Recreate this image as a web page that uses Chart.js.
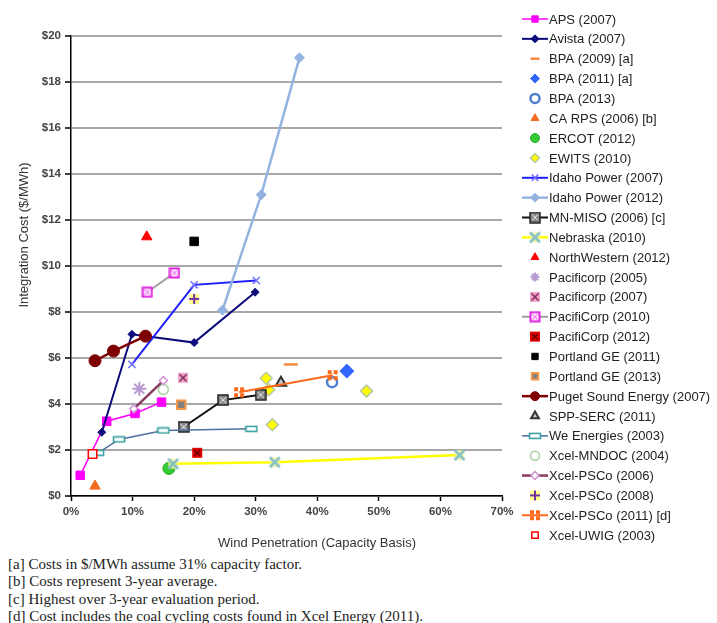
<!DOCTYPE html>
<html>
<head>
<meta charset="utf-8">
<title>Wind integration cost</title>
<script src="https://cdn.jsdelivr.net/npm/chart.js@4.4.1/dist/chart.umd.min.js"></script>
<style>
  html, body { margin: 0; padding: 0; background: #fff; }
  #wrap { position: relative; width: 717px; height: 623px; }
  #chart { display: block; }
  #notes { position: absolute; left: 8px; top: 556px; font: 15px "Liberation Serif", "DejaVu Serif", serif; line-height: 17.4px; color: #222; white-space: nowrap; }
</style>
</head>
<body>
<div id="wrap">
  <canvas id="chart" width="717" height="555"></canvas>
  <div id="notes">
    <div>[a] Costs in $/MWh assume 31% capacity factor.</div>
    <div>[b] Costs represent 3-year average.</div>
    <div>[c] Highest over 3-year evaluation period.</div>
    <div>[d] Cost includes the coal cycling costs found in Xcel Energy (2011).</div>
  </div>
</div>
<script>
// study names (legend order)
const studies = [
    "APS (2007)", "Avista (2007)", "BPA (2009) [a]", "BPA (2011) [a]", "BPA (2013)",
    "CA RPS (2006) [b]", "ERCOT (2012)", "EWITS (2010)", "Idaho Power (2007)", "Idaho Power (2012)",
    "MN-MISO (2006) [c]", "Nebraska (2010)", "NorthWestern (2012)", "Pacificorp (2005)", "Pacificorp (2007)",
    "PacifiCorp (2010)", "PacifiCorp (2012)", "Portland GE (2011)", "Portland GE (2013)", "Puget Sound Energy (2007)",
    "SPP-SERC (2011)", "We Energies (2003)", "Xcel-MNDOC (2004)", "Xcel-PSCo (2006)", "Xcel-PSCo (2008)",
    "Xcel-PSCo (2011) [d]", "Xcel-UWIG (2003)"
];

// [wind penetration %, integration cost $/MWh]
const aps2007 = [[1.5, 0.9], [5.8, 3.25], [10.4, 3.59], [14.7, 4.08]];
const avista2007 = [[5.0, 2.77], [9.9, 7.03], [20.0, 6.67], [29.9, 8.86]];
const bpa2009 = [[35.7, 5.72]];
const bpa2011 = [[44.8, 5.43]];
const bpa2013 = [[42.4, 4.95]];
const caRps2006 = [[3.9, 0.43]];
const ercot2012 = [[15.9, 1.2]];
const ewits2010 = [[31.7, 5.12], [32.1, 4.62], [32.7, 3.1], [48.0, 4.56]];
const idaho2007 = [[9.9, 5.72], [20.0, 9.18], [30.1, 9.37]];
const idaho2012 = [[24.6, 8.08], [30.9, 13.1], [37.1, 19.05]];
const mnMiso2006 = [[18.3, 3.0], [24.7, 4.17], [30.8, 4.4]];
const nebraska2010 = [[16.6, 1.4], [33.1, 1.47], [63.1, 1.78]];
const northwestern2012 = [[12.3, 11.27]];
const pacificorp2005 = [[11.1, 4.66]];
const pacificorp2007 = [[18.2, 5.14]];
const pacificorp2010 = [[12.4, 8.86], [16.8, 9.7]];
const pacificorp2012 = [[20.5, 1.88]];
const portland2011 = [[20.0, 11.07]];
const portland2013 = [[17.9, 3.97]];
const puget2007 = [[3.9, 5.88], [6.9, 6.3], [12.1, 6.95]];
const sppSerc2011 = [[34.1, 4.92]];
const weEnergies2003 = [[4.4, 1.88], [7.8, 2.46], [15.0, 2.85], [29.3, 2.92]];
const xcelMndoc2004 = [[15.0, 4.63]];
const xcelPsco2006 = [[10.2, 3.79], [15.0, 5.02]];
const xcelPsco2008 = [[20.0, 8.57]];
const xcelPsco2011 = [[27.3, 4.51], [42.5, 5.25]];
const xcelUwig2003 = [[3.5, 1.83]];

const xTicks = [0, 10, 20, 30, 40, 50, 60, 70];
const yTicks = [0, 2, 4, 6, 8, 10, 12, 14, 16, 18, 20];

// small hand-drawn marker images
function marker(w, h, draw) {
    const c = document.createElement("canvas");
    c.width = w;
    c.height = h;
    draw(c.getContext("2d"), w, h);
    return c;
}
function xLines(g, w, h, pad, color, lw) {
    g.strokeStyle = color;
    g.lineWidth = lw;
    g.beginPath();
    g.moveTo(pad, pad); g.lineTo(w - pad, h - pad);
    g.moveTo(w - pad, pad); g.lineTo(pad, h - pad);
    g.stroke();
}
const mkMiso = marker(12, 12, (g, w, h) => {
    g.fillStyle = "#8a8a8a"; g.fillRect(1, 1, 10, 10);
    g.strokeStyle = "#222"; g.lineWidth = 1.5; g.strokeRect(1, 1, 10, 10);
    xLines(g, w, h, 3, "#e8e8e8", 1);
});
const mkNebraska = marker(14, 14, (g, w, h) => {
    g.fillStyle = "rgba(240,240,160,0.8)"; g.fillRect(2, 2, 10, 10);
    xLines(g, w, h, 2, "#86c0c4", 2.5);
});
const mkPc2010 = marker(12, 12, (g, w, h) => {
    g.fillStyle = "#fff"; g.fillRect(1, 1, 10, 10);
    g.strokeStyle = "#e020e0"; g.lineWidth = 2; g.strokeRect(1.5, 1.5, 9, 9);
    xLines(g, w, h, 3.5, "#f080f0", 1.2);
});
const mkPc2007 = marker(12, 12, (g, w, h) => {
    g.fillStyle = "#f4a4c8"; g.fillRect(1, 1, 10, 10);
    xLines(g, w, h, 2.5, "#803060", 1.6);
});
const mkPc2012 = marker(12, 12, (g, w, h) => {
    g.fillStyle = "#e00000"; g.fillRect(1, 1, 10, 10);
    xLines(g, w, h, 3, "#600000", 1.4);
});
const mkWe = marker(14, 8, (g) => {
    g.fillStyle = "#fff"; g.fillRect(1, 1, 12, 6);
    g.strokeStyle = "#2e9a9a"; g.lineWidth = 1.5; g.strokeRect(1.5, 1.5, 11, 5);
});
const mkPsco2008 = marker(12, 12, (g) => {
    g.fillStyle = "#ffff90"; g.fillRect(1, 1, 10, 10);
    g.strokeStyle = "#7030a0"; g.lineWidth = 2;
    g.beginPath();
    g.moveTo(6, 1); g.lineTo(6, 11);
    g.moveTo(1, 6); g.lineTo(11, 6);
    g.stroke();
});
const mkPsco2011 = marker(12, 12, (g) => {
    g.fillStyle = "#ff6a1a";
    g.fillRect(1, 1, 4, 4); g.fillRect(7, 1, 4, 4);
    g.fillRect(1, 7, 4, 4); g.fillRect(7, 7, 4, 4);
});

function pts(arr) {
    return arr.map(p => ({ x: p[0], y: p[1] }));
}

const styles = [
    { d: aps2007, line: "#ff00ff", lw: 1.5, ps: "rect", r: 6, bg: "#ff00ff", bc: "#ff00ff" },
    { d: avista2007, line: "#0b0b7a", lw: 2, ps: "rectRot", r: 4, bg: "#0b0b7a", bc: "#0b0b7a" },
    { d: bpa2009, ps: "line", r: 7, bg: "#f58a3c", bc: "#f58a3c", bw: 2.5 },
    { d: bpa2011, ps: "rectRot", r: 7, bg: "#3366ff", bc: "#3366ff" },
    { d: bpa2013, ps: "circle", r: 5, bg: "#ffffff", bc: "#4f81d0", bw: 2.5 },
    { d: caRps2006, ps: "triangle", r: 6, bg: "#f26b1d", bc: "#f26b1d" },
    { d: ercot2012, ps: "circle", r: 6, bg: "#33cc33", bc: "#22aa22" },
    { d: ewits2010, ps: "rectRot", r: 6, bg: "#ffff00", bc: "#b8c8a0", bw: 1.5 },
    { d: idaho2007, line: "#1f1fff", lw: 2, ps: "crossRot", r: 5, bg: "#7070ff", bc: "#7070ff", bw: 1.5 },
    { d: idaho2012, line: "#95b3e0", lw: 2.5, ps: "rectRot", r: 5, bg: "#95b3e0", bc: "#95b3e0" },
    { d: mnMiso2006, line: "#111111", lw: 2, ps: mkMiso },
    { d: nebraska2010, line: "#ffff00", lw: 2.5, ps: mkNebraska },
    { d: northwestern2012, ps: "triangle", r: 6, bg: "#ff0000", bc: "#ff0000" },
    { d: pacificorp2005, ps: "star", r: 7, bg: "#b89ad0", bc: "#b89ad0", bw: 2 },
    { d: pacificorp2007, ps: mkPc2007 },
    { d: pacificorp2010, line: "#a0a0a0", lw: 2, ps: mkPc2010 },
    { d: pacificorp2012, ps: mkPc2012 },
    { d: portland2011, ps: "rect", r: 6, bg: "#000000", bc: "#000000" },
    { d: portland2013, ps: "rect", r: 6, bg: "#808080", bc: "#f79646", bw: 2 },
    { d: puget2007, line: "#7f0000", lw: 2.5, ps: "circle", r: 6, bg: "#7f0000", bc: "#7f0000" },
    { d: sppSerc2011, ps: "triangle", r: 6, bg: "#c8c8c8", bc: "#333333", bw: 2 },
    { d: weEnergies2003, line: "#4f6fa0", lw: 1.5, ps: mkWe },
    { d: xcelMndoc2004, ps: "circle", r: 5, bg: "#ffffff", bc: "#a8d0a0", bw: 1.5 },
    { d: xcelPsco2006, line: "#8b3a62", lw: 2.5, ps: "rectRot", r: 4, bg: "#ffffff", bc: "#d090d0", bw: 1.5 },
    { d: xcelPsco2008, ps: mkPsco2008 },
    { d: xcelPsco2011, line: "#ff6a1a", lw: 2, ps: mkPsco2011 },
    { d: xcelUwig2003, ps: "rect", r: 6, bg: "#ffffff", bc: "#ff0000", bw: 1.5 }
];

const datasets = styles.map((s, i) => ({
    label: studies[i],
    data: pts(s.d),
    showLine: !!s.line,
    borderColor: s.line || s.bc || "#000",
    borderWidth: s.lw || 0,
    pointStyle: s.ps,
    pointRadius: s.r || 6,
    pointBackgroundColor: s.bg || "#fff",
    pointBorderColor: s.bc || "#000",
    pointBorderWidth: s.bw !== undefined ? s.bw : 1,
    order: -i
}));

const PLOT = { left: 71, right: 502, top: 36, bottom: 496 };
const SANS = '"Liberation Sans", Arial, sans-serif';

const extras = {
    id: "extras",
    afterDraw(chart) {
        const ctx = chart.ctx;
        ctx.save();
        ctx.fillStyle = "#333";
        ctx.font = "13px " + SANS;
        ctx.textAlign = "center";
        ctx.textBaseline = "middle";
        ctx.fillText("Wind Penetration (Capacity Basis)", 317, 543);
        ctx.save();
        ctx.translate(24, 235);
        ctx.rotate(-Math.PI / 2);
        ctx.fillText("Integration Cost ($/MWh)", 0, 0);
        ctx.restore();

        // legend: line sample plus marker
        ctx.textAlign = "left";
        styles.forEach((s, i) => {
            const y = 19 + i * 19.85;
            if (s.line) {
                ctx.strokeStyle = s.line;
                ctx.lineWidth = s.lw;
                ctx.beginPath();
                ctx.moveTo(522, y);
                ctx.lineTo(548, y);
                ctx.stroke();
            }
            ctx.fillStyle = s.bg || "#fff";
            ctx.strokeStyle = s.bc || "#000";
            ctx.lineWidth = s.bw !== undefined ? s.bw : 1;
            Chart.helpers.drawPoint(ctx, {
                pointStyle: s.ps,
                radius: Math.min(s.r || 6, 4.5),
                borderWidth: ctx.lineWidth
            }, 535, y);
            ctx.fillStyle = "#222";
            ctx.fillText(studies[i], 549, y + 1);
        });
        ctx.restore();
    }
};

new Chart(document.getElementById("chart"), {
    type: "scatter",
    data: { datasets },
    options: {
        responsive: false,
        animation: false,
        layout: { padding: { top: PLOT.top, right: 717 - PLOT.right, left: 0, bottom: 0 } },
        plugins: { legend: { display: false }, tooltip: { enabled: false } },
        scales: {
            x: {
                type: "linear",
                min: 0, max: 70,
                afterBuildTicks: sc => { sc.ticks = xTicks.map(v => ({ value: v })); },
                afterFit: sc => { sc.height = 555 - PLOT.bottom; },
                ticks: { callback: v => v + "%", font: { size: 11.5, family: SANS, weight: "bold" }, color: "#444", padding: 4, maxRotation: 0 },
                grid: { drawOnChartArea: false, drawTicks: true, tickLength: 5, tickColor: "#000", tickWidth: 1.5 },
                border: { color: "#000", width: 1.5 }
            },
            y: {
                type: "linear",
                min: 0, max: 20,
                afterBuildTicks: sc => { sc.ticks = yTicks.map(v => ({ value: v })); },
                afterFit: sc => { sc.width = PLOT.left; },
                ticks: { callback: v => "$" + v, font: { size: 11.5, family: SANS, weight: "bold" }, color: "#444", padding: 4 },
                grid: { color: "#a8a8a8", lineWidth: 2, drawTicks: true, tickLength: 6, tickColor: "#000", tickWidth: 1.5 },
                border: { color: "#000", width: 1.5 }
            }
        }
    },
    plugins: [extras]
});
</script>
</body>
</html>
